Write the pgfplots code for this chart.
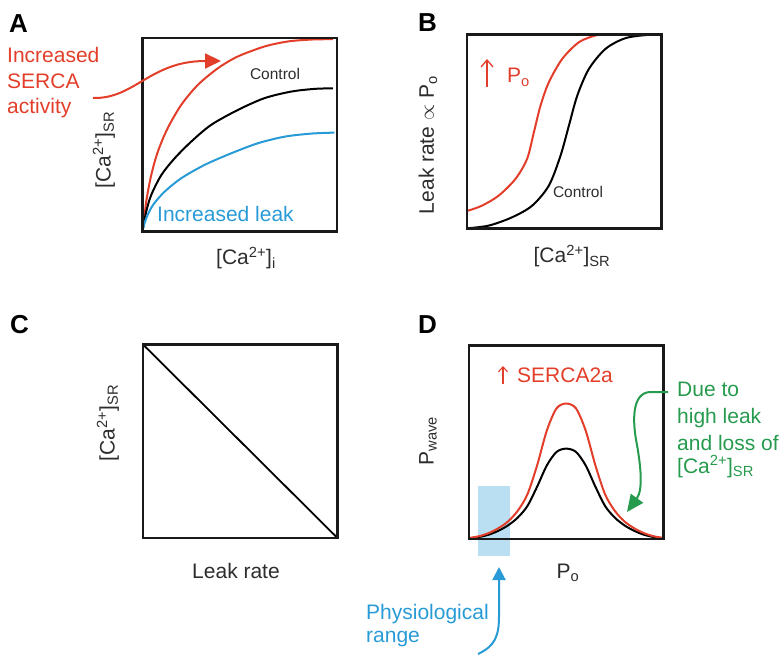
\documentclass[border=0pt]{standalone}
\usepackage{fontspec}
\setmainfont{Liberation Sans}
\usepackage{pgfplots}
\pgfplotsset{compat=1.18}
\usetikzlibrary{arrows.meta}

\definecolor{cred}{RGB}{226,62,42}
\definecolor{cblue}{RGB}{40,155,215}
\definecolor{cgreen}{RGB}{38,155,78}
\definecolor{lblue}{RGB}{186,222,242}
\definecolor{txt}{RGB}{45,45,45}

\newcommand\fbig{\fontsize{21}{25}\selectfont}
\newcommand\fsmall{\fontsize{15.5}{18}\selectfont}
\newcommand\fletter{\fontsize{26}{30}\selectfont\bfseries}
\newcommand\Ca{[Ca\textsuperscript{2+}]}

\pgfplotsset{panel/.style={
    width=194.5pt, height=193.5pt, scale only axis, anchor=south west,
    xmin=0, xmax=1, ymin=0, ymax=1, xtick=\empty, ytick=\empty,
    axis line style={line width=2.6pt, black!90}, axis on top, clip=false}}

\begin{document}
\begin{tikzpicture}[x=1pt,y=1pt]
\path[use as bounding box] (0,0) rectangle (781,654);

% A
\begin{axis}[panel, at={(142.3pt,422.3pt)}]
\addplot[cred, line width=2pt, smooth] coordinates {
 (0,0) (0.009,0.052) (0.02,0.155) (0.046,0.293) (0.08,0.414) (0.13,0.534)
 (0.20,0.655) (0.286,0.759) (0.389,0.845) (0.49,0.905) (0.628,0.957)
 (0.748,0.983) (0.868,0.993) (0.98,0.995)};
\addplot[black, line width=2pt, smooth] coordinates {
 (0,0) (0.02,0.103) (0.046,0.19) (0.098,0.293) (0.166,0.379) (0.252,0.466)
 (0.354,0.552) (0.491,0.629) (0.628,0.69) (0.765,0.724) (0.885,0.738)
 (0.98,0.741)};
\addplot[cblue, line width=2pt, smooth] coordinates {
 (0,0) (0.02,0.069) (0.055,0.138) (0.115,0.207) (0.2,0.276) (0.32,0.345)
 (0.457,0.405) (0.594,0.457) (0.731,0.491) (0.868,0.507) (0.988,0.512)};
\end{axis}

% B
\begin{axis}[panel, at={(467pt,425.7pt)}]
\addplot[cred, line width=2pt, smooth] coordinates {
 (0.005,0.091) (0.077,0.117) (0.163,0.169) (0.249,0.255) (0.309,0.359)
 (0.344,0.497) (0.378,0.634) (0.421,0.755) (0.49,0.876) (0.576,0.962)
 (0.662,0.997) (0.704,1.0)};
\addplot[black, line width=2pt, smooth] coordinates {
 (0,0) (0.112,0.014) (0.232,0.057) (0.335,0.117) (0.421,0.221)
 (0.481,0.376) (0.524,0.531) (0.567,0.686) (0.627,0.824) (0.713,0.928)
 (0.816,0.983) (0.936,1.0) (0.997,1.0)};
\end{axis}

% C
\begin{axis}[panel, at={(143pt,116pt)}]
\addplot[black, line width=1.8pt] coordinates {(0,1) (1,0)};
\end{axis}

% D
\begin{axis}[panel, at={(469pt,115pt)}]
\fill[lblue] (axis cs:0.048,-0.09) rectangle (axis cs:0.213,0.272);
\addplot[black, line width=2pt, smooth] coordinates {
 (0,0.004) (0.05,0.01) (0.10,0.022) (0.15,0.042) (0.20,0.07) (0.25,0.11)
 (0.30,0.17) (0.35,0.27) (0.40,0.38) (0.45,0.45) (0.50,0.467)
 (0.55,0.45) (0.60,0.38) (0.65,0.27) (0.70,0.17) (0.75,0.11)
 (0.80,0.07) (0.85,0.042) (0.90,0.022) (0.95,0.01) (1.0,0.004)};
\addplot[cred, line width=2pt, smooth] coordinates {
 (0,0.005) (0.05,0.014) (0.10,0.03) (0.15,0.055) (0.20,0.09) (0.25,0.145)
 (0.30,0.23) (0.35,0.38) (0.40,0.56) (0.45,0.675) (0.50,0.70)
 (0.55,0.675) (0.60,0.56) (0.65,0.38) (0.70,0.23) (0.75,0.145)
 (0.80,0.09) (0.85,0.055) (0.90,0.03) (0.95,0.014) (1.0,0.005)};
\end{axis}

% panel letters
\node[anchor=base west, inner sep=0] at (9,621) {\fletter A};
\node[anchor=base west, inner sep=0] at (418,622) {\fletter B};
\node[anchor=base west, inner sep=0] at (10,321) {\fletter C};
\node[anchor=base west, inner sep=0] at (418,321) {\fletter D};

% A texts
\node[anchor=base west, inner sep=0, cred] at (7,591) {\fbig Increased};
\node[anchor=base west, inner sep=0, cred] at (7,565) {\fbig SERCA};
\node[anchor=base west, inner sep=0, cred] at (7,540) {\fbig activity};
\draw[cred, line width=2pt, -{Triangle[length=16pt,width=15pt]}]
  (93,556) .. controls (135,555) and (150,593) .. (221,593);
\node[anchor=base, inner sep=0, txt] at (275,574) {\fsmall Control};
\node[anchor=base west, inner sep=0, cblue] at (157,432) {\fbig Increased leak};
\node[anchor=base, inner sep=0, txt] at (246,389) {\fbig \Ca\textsubscript{i}};
\node[rotate=90, inner sep=0, txt] at (104,504) {\fbig \Ca\textsubscript{SR}};

% B texts
\draw[cred, line width=1.3pt, -{Straight Barb[length=7pt,width=12pt]}] (487,567) -- (487,595);
\node[anchor=base west, inner sep=0, cred] at (507,571) {\fbig P\textsubscript{o}};
\node[anchor=base, inner sep=0, txt] at (578,456) {\fsmall Control};
\node[anchor=base, inner sep=0, txt] at (572,391) {\fbig \Ca\textsubscript{SR}};
\node[rotate=90, inner sep=0, txt] at (428,509) {\fbig Leak rate $\propto$ P\textsubscript{o}};

% C texts
\node[anchor=base, inner sep=0, txt] at (236,76) {\fbig Leak rate};
\node[rotate=90, inner sep=0, txt] at (108,231) {\fbig \Ca\textsubscript{SR}};

% D texts
\draw[cred, line width=1.1pt, -{Straight Barb[length=5pt,width=9pt]}] (503,270) -- (503,288);
\node[anchor=base west, inner sep=0, cred] at (517,272) {\fbig SERCA2a};
\node[anchor=base, inner sep=0, txt] at (568,76) {\fbig P\textsubscript{o}};
\node[rotate=90, inner sep=0, txt] at (428,213) {\fbig P\textsubscript{wave}};
\node[anchor=base west, inner sep=0, cgreen] at (677,258) {\fbig Due to};
\node[anchor=base west, inner sep=0, cgreen] at (677,231) {\fbig high leak};
\node[anchor=base west, inner sep=0, cgreen] at (677,204) {\fbig and loss of};
\node[anchor=base west, inner sep=0, cgreen] at (677,181) {\fbig \Ca\textsubscript{SR}};
\draw[cgreen, line width=2pt, -{Triangle[length=17pt,width=15pt]}]
  (668,262) -- (650,262) .. controls (632,261) and (632,234) .. (637,209)
  .. controls (641,186) and (643,164) .. (627,142);
\node[anchor=base west, inner sep=0, cblue] at (366,35) {\fbig Physiological};
\node[anchor=base west, inner sep=0, cblue] at (366,12) {\fbig range};
\draw[cblue, line width=2pt, -{Triangle[length=13pt,width=13pt]}]
  (478,0) .. controls (495,8) and (499,18) .. (499,38) -- (499,87);
\end{tikzpicture}
\end{document}
